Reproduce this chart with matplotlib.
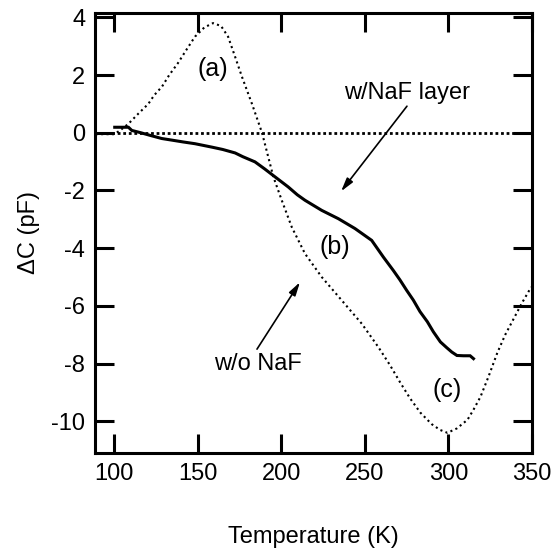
import matplotlib
matplotlib.use("Agg")
import matplotlib.pyplot as plt

plt.rcParams['font.family'] = ['Liberation Sans', 'DejaVu Sans']
plt.rcParams['axes.unicode_minus'] = False

# w/o NaF (dotted curve)
T_without = [89, 95, 100, 103.6, 108.6, 114.5, 120.5, 124, 128.7, 133, 138.3, 143, 148.4, 154, 159.2,
             164, 168.2, 172, 176.5, 182.5, 188.5, 195.3, 200.3, 206.3, 214.2, 224.2, 236.2,
             248.2, 258.1, 265, 271.3, 277, 283.2, 290, 295, 299.4, 305, 311.4, 315, 319.2, 324,
             329.3, 334, 339, 344, 349.5]
C_without = [-0.05, -0.05, -0.05, 0.08, 0.31, 0.66, 1.0, 1.3, 1.6, 2.0, 2.42, 2.85, 3.33, 3.65, 3.8,
             3.7, 3.33, 2.7, 1.94, 1.0, 0.0, -1.53, -2.34, -3.27, -4.19, -5.0, -5.81,
             -6.62, -7.43, -8.05, -8.67, -9.2, -9.7, -10.1, -10.3, -10.4, -10.25, -9.95, -9.6, -9.15, -8.45,
             -7.62, -7.0, -6.45, -5.9, -5.35]

# w/NaF layer (solid curve)
T_with = [100.4, 108.6, 110.6, 116, 121.5, 128.5, 135, 141.4, 148.4, 158.6, 165, 172.4, 177, 184.3, 190,
          196.3, 204.2, 209.6, 214.2, 224.2, 234.2, 244.1, 254.1, 261.1, 267,
          271, 275, 279, 283, 287.4, 291, 295.2, 299, 302, 305.1, 309, 313, 315]
C_with = [0.19, 0.19, 0.08, 0.0, -0.09, -0.2, -0.26, -0.32, -0.38, -0.5, -0.58, -0.7, -0.83, -1.01, -1.25,
          -1.53, -1.88, -2.15, -2.34, -2.69, -2.98, -3.32, -3.73, -4.31, -4.77,
          -5.1, -5.46, -5.8, -6.2, -6.55, -6.9, -7.25, -7.45, -7.6, -7.72, -7.73, -7.73, -7.83]

x_ticks = [100, 150, 200, 250, 300, 350]
y_ticks = [4, 2, 0, -2, -4, -6, -8, -10]

fig = plt.figure(figsize=(5.59, 5.5), dpi=100)
ax = fig.add_axes([95/559, 1 - 453/550, (532 - 95)/559, (453 - 13)/550])

ax.axhline(0, color='black', lw=2.0, linestyle=(0, (1, 1)))
ax.plot(T_without, C_without, color='black', lw=1.5, linestyle=(0, (1, 1.6)))
ax.plot(T_with, C_with, color='black', lw=2.2, solid_joinstyle='miter')

ax.set_xlim(88.6, 350)
ax.set_ylim(-11.1, 4.15)
ax.set_xticks(x_ticks)
ax.set_yticks(y_ticks)
ax.tick_params(direction='in', length=14, width=2.2, top=True, right=True,
               labelsize=17, pad=7)
for s in ax.spines.values():
    s.set_linewidth(2.2)

ax.set_xlabel('Temperature (K)', fontsize=17, labelpad=30)
ax.set_ylabel('ΔC (pF)', fontsize=17, labelpad=8)

ax.text(159, 2.2, '(a)', fontsize=18, ha='center', va='center')
ax.text(232, -3.97, '(b)', fontsize=18, ha='center', va='center')
ax.text(299, -8.92, '(c)', fontsize=18, ha='center', va='center')

ax.text(275.5, 1.37, 'w/NaF layer', fontsize=17, ha='center', va='center')
ax.text(185.8, -8.02, 'w/o NaF', fontsize=17, ha='center', va='center')

arrow_style = dict(arrowstyle='-|>,head_length=0.8,head_width=0.22', color='black', lw=1.2,
                   shrinkA=0, shrinkB=0)
ax.annotate('', xy=(235.8, -2.03), xytext=(275.2, 0.92), arrowprops=arrow_style)
ax.annotate('', xy=(211.2, -5.18), xytext=(185.5, -7.5), arrowprops=arrow_style)

fig.savefig('out.png', dpi=100)
